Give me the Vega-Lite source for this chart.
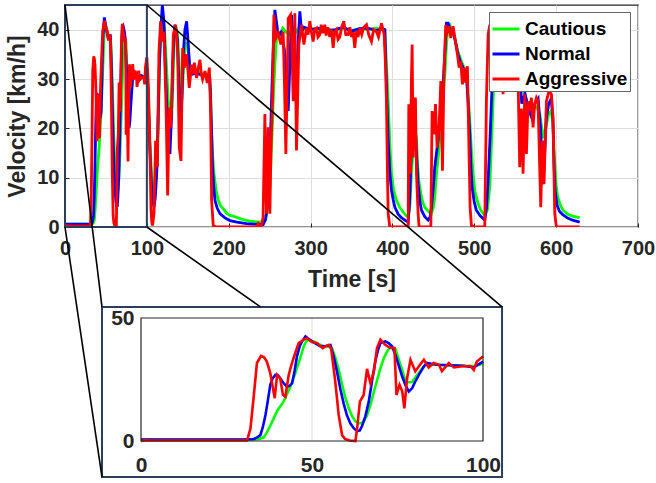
{
"$schema":"https://vega.github.io/schema/vega-lite/v6.json",
"autosize":{"type":"none"},
"padding":{"left":65,"top":5,"right":18,"bottom":256},
"width":573,"height":222,
"config":{
 "font":"Liberation Sans",
 "view":{"stroke":"#262626","strokeWidth":1.3},
 "axis":{"labelFont":"Liberation Sans","labelFontWeight":"bold","labelColor":"#262626","labelFontSize":20,"titleFont":"Liberation Sans","titleFontSize":23,"titleFontWeight":"bold","titleColor":"#262626","domain":false,"gridColor":"#dedede","gridWidth":1,"tickColor":"#262626","labelFlush":false,"labelOverlap":false},
 "legend":{"orient":"none","legendX":424,"legendY":7,"labelFont":"Liberation Sans","labelFontSize":19,"labelFontWeight":"bold","labelColor":"#000000","symbolType":"stroke","symbolSize":729,"symbolStrokeWidth":3,"strokeColor":"#666666","fillColor":"#ffffff","padding":2,"rowPadding":-5,"labelOffset":4,"cornerRadius":0}
},
"datasets":{
"vel":[
{"s":"Cautious","t":0,"v":0.6},{"s":"Cautious","t":10,"v":0.6},{"s":"Cautious","t":20,"v":0.6},{"s":"Cautious","t":30,"v":0.6},{"s":"Cautious","t":33,"v":0.6},{"s":"Cautious","t":34.5,"v":0.8},{"s":"Cautious","t":35.9,"v":1.5},{"s":"Cautious","t":36.8,"v":3.5},{"s":"Cautious","t":37.8,"v":6.2},{"s":"Cautious","t":38.8,"v":9.2},{"s":"Cautious","t":39.8,"v":12.2},{"s":"Cautious","t":40.7,"v":14},{"s":"Cautious","t":41.7,"v":16},{"s":"Cautious","t":42.6,"v":18.8},{"s":"Cautious","t":43.6,"v":21.9},{"s":"Cautious","t":44.6,"v":25.5},{"s":"Cautious","t":45.6,"v":29.6},{"s":"Cautious","t":46.6,"v":34},{"s":"Cautious","t":47.6,"v":38.5},{"s":"Cautious","t":48.3,"v":40.5},{"s":"Cautious","t":49,"v":41.2},{"s":"Cautious","t":50.5,"v":40.5},{"s":"Cautious","t":51.5,"v":39.8},{"s":"Cautious","t":52.4,"v":39.1},{"s":"Cautious","t":53.4,"v":38.5},{"s":"Cautious","t":54.4,"v":38.5},{"s":"Cautious","t":55.8,"v":37.8},{"s":"Cautious","t":56.8,"v":34},{"s":"Cautious","t":57.8,"v":29},{"s":"Cautious","t":58.8,"v":23},{"s":"Cautious","t":59.7,"v":17.8},{"s":"Cautious","t":60.7,"v":13.5},{"s":"Cautious","t":61.7,"v":10.2},{"s":"Cautious","t":62.6,"v":8.2},{"s":"Cautious","t":63.6,"v":7.2},{"s":"Cautious","t":64.4,"v":7.2},{"s":"Cautious","t":65.1,"v":7.9},{"s":"Cautious","t":66.1,"v":10.5},{"s":"Cautious","t":67.1,"v":14.7},{"s":"Cautious","t":68,"v":19.5},{"s":"Cautious","t":69,"v":24.6},{"s":"Cautious","t":70,"v":29.5},{"s":"Cautious","t":71,"v":33.7},{"s":"Cautious","t":72,"v":36.5},{"s":"Cautious","t":72.9,"v":38.2},{"s":"Cautious","t":74.4,"v":37.5},{"s":"Cautious","t":75.4,"v":33},{"s":"Cautious","t":76.4,"v":28.7},{"s":"Cautious","t":77.1,"v":25.5},{"s":"Cautious","t":77.8,"v":23.9},{"s":"Cautious","t":79.3,"v":24},{"s":"Cautious","t":80.2,"v":25.8},{"s":"Cautious","t":81.2,"v":27.6},{"s":"Cautious","t":82.2,"v":29.5},{"s":"Cautious","t":83.2,"v":31},{"s":"Cautious","t":86.5,"v":31},{"s":"Cautious","t":89,"v":30.8},{"s":"Cautious","t":92.4,"v":30.7},{"s":"Cautious","t":95,"v":30.5},{"s":"Cautious","t":97.3,"v":30.5},{"s":"Cautious","t":99,"v":31},{"s":"Cautious","t":100,"v":31.7},
{"s":"Cautious","t":101.8,"v":27},{"s":"Cautious","t":103.8,"v":17},{"s":"Cautious","t":105.8,"v":10.8},{"s":"Cautious","t":107.5,"v":7.5},{"s":"Cautious","t":109,"v":6.7},{"s":"Cautious","t":110.8,"v":9},{"s":"Cautious","t":112.8,"v":13.4},{"s":"Cautious","t":114.5,"v":25},{"s":"Cautious","t":116,"v":35.6},{"s":"Cautious","t":117.5,"v":40},{"s":"Cautious","t":119.3,"v":41.7},{"s":"Cautious","t":121.5,"v":40.3},{"s":"Cautious","t":123.5,"v":34},{"s":"Cautious","t":126.2,"v":25.5},{"s":"Cautious","t":128.2,"v":22.5},{"s":"Cautious","t":130.3,"v":22.2},{"s":"Cautious","t":132,"v":30},{"s":"Cautious","t":133.5,"v":37.6},{"s":"Cautious","t":135.5,"v":40.5},{"s":"Cautious","t":137.5,"v":39},{"s":"Cautious","t":140,"v":31},{"s":"Cautious","t":142.5,"v":25.5},{"s":"Cautious","t":144.5,"v":31},{"s":"Cautious","t":146.5,"v":36.3},{"s":"Cautious","t":148.5,"v":37.5},{"s":"Cautious","t":150.6,"v":35.6},{"s":"Cautious","t":153,"v":32},{"s":"Cautious","t":156,"v":31.5},{"s":"Cautious","t":160,"v":31.5},{"s":"Cautious","t":164,"v":31.5},{"s":"Cautious","t":168,"v":31},{"s":"Cautious","t":172,"v":31},{"s":"Cautious","t":176,"v":31},{"s":"Cautious","t":178,"v":27},{"s":"Cautious","t":179.1,"v":18.8},{"s":"Cautious","t":180.5,"v":14},{"s":"Cautious","t":182,"v":10.8},{"s":"Cautious","t":184.5,"v":7.5},{"s":"Cautious","t":187.2,"v":5.4},{"s":"Cautious","t":190,"v":4.3},{"s":"Cautious","t":193.3,"v":3.7},{"s":"Cautious","t":197.4,"v":2.8},{"s":"Cautious","t":201,"v":2.4},{"s":"Cautious","t":205.5,"v":2.2},{"s":"Cautious","t":213.7,"v":1.7},{"s":"Cautious","t":220,"v":1.4},{"s":"Cautious","t":226,"v":1.2},{"s":"Cautious","t":232,"v":1.1},{"s":"Cautious","t":238,"v":1},{"s":"Cautious","t":244.2,"v":1.3},{"s":"Cautious","t":247,"v":3},{"s":"Cautious","t":250.3,"v":8},{"s":"Cautious","t":252.3,"v":16},{"s":"Cautious","t":254.3,"v":25.5},{"s":"Cautious","t":256.4,"v":33},{"s":"Cautious","t":258.4,"v":38.3},{"s":"Cautious","t":262.5,"v":39},{"s":"Cautious","t":266,"v":40.3},{"s":"Cautious","t":270,"v":39.5},{"s":"Cautious","t":274,"v":39},{"s":"Cautious","t":278,"v":40.5},{"s":"Cautious","t":282,"v":39.5},{"s":"Cautious","t":286,"v":40.5},{"s":"Cautious","t":290,"v":40},{"s":"Cautious","t":300,"v":40.3},{"s":"Cautious","t":310,"v":39.8},{"s":"Cautious","t":320,"v":40.2},{"s":"Cautious","t":330,"v":39.7},{"s":"Cautious","t":340,"v":40.3},{"s":"Cautious","t":350,"v":39.8},{"s":"Cautious","t":360,"v":40.2},{"s":"Cautious","t":370,"v":40},{"s":"Cautious","t":380,"v":40.3},{"s":"Cautious","t":390.7,"v":40},{"s":"Cautious","t":392.7,"v":33},{"s":"Cautious","t":394.8,"v":25.5},{"s":"Cautious","t":396.8,"v":17},{"s":"Cautious","t":398.8,"v":10.8},{"s":"Cautious","t":401.5,"v":7.5},{"s":"Cautious","t":404.9,"v":5.4},{"s":"Cautious","t":409,"v":4},{"s":"Cautious","t":413.1,"v":3},{"s":"Cautious","t":417,"v":2.3},{"s":"Cautious","t":419.2,"v":2},{"s":"Cautious","t":421.2,"v":4},{"s":"Cautious","t":423.2,"v":10.8},{"s":"Cautious","t":425.3,"v":16},{"s":"Cautious","t":427.3,"v":20},{"s":"Cautious","t":429.4,"v":18},{"s":"Cautious","t":430.6,"v":13},{"s":"Cautious","t":432.2,"v":9.4},{"s":"Cautious","t":435,"v":6.5},{"s":"Cautious","t":437,"v":5},{"s":"Cautious","t":439.5,"v":4},{"s":"Cautious","t":443.6,"v":3.2},{"s":"Cautious","t":447.7,"v":2.7},{"s":"Cautious","t":450,"v":4},{"s":"Cautious","t":451.7,"v":6},{"s":"Cautious","t":453.8,"v":10.8},{"s":"Cautious","t":455.8,"v":14},{"s":"Cautious","t":457.8,"v":17.5},{"s":"Cautious","t":460,"v":23},{"s":"Cautious","t":462,"v":27},{"s":"Cautious","t":464,"v":30.9},{"s":"Cautious","t":466,"v":37},{"s":"Cautious","t":468,"v":40.7},{"s":"Cautious","t":470,"v":41},{"s":"Cautious","t":473,"v":39.8},{"s":"Cautious","t":476.2,"v":38.3},{"s":"Cautious","t":480,"v":35.5},{"s":"Cautious","t":484.3,"v":33.6},{"s":"Cautious","t":487,"v":32.5},{"s":"Cautious","t":490.4,"v":30.9},{"s":"Cautious","t":492.5,"v":26.5},{"s":"Cautious","t":494.5,"v":21.5},{"s":"Cautious","t":496.5,"v":15.5},{"s":"Cautious","t":498.5,"v":10.8},{"s":"Cautious","t":501,"v":7},{"s":"Cautious","t":504.7,"v":4.7},{"s":"Cautious","t":508,"v":3.4},{"s":"Cautious","t":512.8,"v":2.3},{"s":"Cautious","t":516,"v":3.5},{"s":"Cautious","t":518.9,"v":8.1},{"s":"Cautious","t":521,"v":17},{"s":"Cautious","t":523,"v":25.5},{"s":"Cautious","t":525,"v":35.6},{"s":"Cautious","t":527,"v":39.5},{"s":"Cautious","t":530,"v":40.5},{"s":"Cautious","t":540,"v":40},{"s":"Cautious","t":550,"v":40},{"s":"Cautious","t":553,"v":39},{"s":"Cautious","t":556,"v":33},{"s":"Cautious","t":560,"v":28},{"s":"Cautious","t":565,"v":25},{"s":"Cautious","t":570,"v":23.5},{"s":"Cautious","t":575,"v":24.5},{"s":"Cautious","t":580,"v":23},{"s":"Cautious","t":584,"v":18},{"s":"Cautious","t":587,"v":20},{"s":"Cautious","t":591,"v":23},{"s":"Cautious","t":594,"v":23.5},{"s":"Cautious","t":596,"v":21},{"s":"Cautious","t":598.3,"v":13},{"s":"Cautious","t":600,"v":8.5},{"s":"Cautious","t":602,"v":6},{"s":"Cautious","t":605,"v":4.5},{"s":"Cautious","t":608.4,"v":3.4},{"s":"Cautious","t":614,"v":2.6},{"s":"Cautious","t":620,"v":2.2},{"s":"Cautious","t":628.8,"v":1.9},
{"s":"Normal","t":0,"v":0.6},{"s":"Normal","t":10,"v":0.6},{"s":"Normal","t":20,"v":0.6},{"s":"Normal","t":31,"v":0.6},{"s":"Normal","t":33,"v":0.8},{"s":"Normal","t":34,"v":1.5},{"s":"Normal","t":34.9,"v":2.4},{"s":"Normal","t":35.6,"v":5.5},{"s":"Normal","t":36.4,"v":10.6},{"s":"Normal","t":37.1,"v":16.5},{"s":"Normal","t":37.8,"v":22.8},{"s":"Normal","t":38.5,"v":25.5},{"s":"Normal","t":39.3,"v":26.9},{"s":"Normal","t":40,"v":26.8},{"s":"Normal","t":40.7,"v":25.5},{"s":"Normal","t":41.7,"v":23.5},{"s":"Normal","t":42.7,"v":22.1},{"s":"Normal","t":43.5,"v":22.5},{"s":"Normal","t":44.2,"v":23.5},{"s":"Normal","t":44.9,"v":28.5},{"s":"Normal","t":45.6,"v":34.4},{"s":"Normal","t":46.4,"v":38.5},{"s":"Normal","t":47.1,"v":40.5},{"s":"Normal","t":48.1,"v":42.5},{"s":"Normal","t":49,"v":41.5},{"s":"Normal","t":50,"v":40.5},{"s":"Normal","t":51.2,"v":39.5},{"s":"Normal","t":52.4,"v":38.5},{"s":"Normal","t":53.9,"v":38.5},{"s":"Normal","t":55.4,"v":39},{"s":"Normal","t":56.4,"v":34},{"s":"Normal","t":57.3,"v":28.3},{"s":"Normal","t":58.3,"v":21},{"s":"Normal","t":59.3,"v":15},{"s":"Normal","t":60.2,"v":10.5},{"s":"Normal","t":61.2,"v":7.2},{"s":"Normal","t":62.2,"v":5.2},{"s":"Normal","t":63.2,"v":4},{"s":"Normal","t":64,"v":4.3},{"s":"Normal","t":64.6,"v":6},{"s":"Normal","t":65.6,"v":10},{"s":"Normal","t":66.6,"v":16},{"s":"Normal","t":67.5,"v":24},{"s":"Normal","t":68.5,"v":32.3},{"s":"Normal","t":69.3,"v":37},{"s":"Normal","t":70,"v":39.8},{"s":"Normal","t":71.4,"v":40.5},{"s":"Normal","t":72.4,"v":39.8},{"s":"Normal","t":73.4,"v":38.5},{"s":"Normal","t":74.4,"v":35},{"s":"Normal","t":75.3,"v":31},{"s":"Normal","t":76.3,"v":26.5},{"s":"Normal","t":77.3,"v":22.8},{"s":"Normal","t":78.3,"v":20.1},{"s":"Normal","t":79.3,"v":21.5},{"s":"Normal","t":80.2,"v":24.2},{"s":"Normal","t":81.5,"v":27.5},{"s":"Normal","t":82.7,"v":30.3},{"s":"Normal","t":83.6,"v":31.7},{"s":"Normal","t":86.5,"v":31},{"s":"Normal","t":90.4,"v":30.8},{"s":"Normal","t":94.3,"v":30.6},{"s":"Normal","t":97.3,"v":29.9},{"s":"Normal","t":100,"v":32.3},
{"s":"Normal","t":101.8,"v":25.5},{"s":"Normal","t":103.8,"v":15},{"s":"Normal","t":105.8,"v":8.1},{"s":"Normal","t":107.3,"v":5.5},{"s":"Normal","t":108.7,"v":4},{"s":"Normal","t":110.3,"v":6},{"s":"Normal","t":112,"v":10.8},{"s":"Normal","t":113.6,"v":21},{"s":"Normal","t":115.2,"v":32.3},{"s":"Normal","t":117,"v":40},{"s":"Normal","t":118.9,"v":45},{"s":"Normal","t":120.9,"v":41.7},{"s":"Normal","t":122.5,"v":33},{"s":"Normal","t":124.2,"v":25.5},{"s":"Normal","t":126.2,"v":18},{"s":"Normal","t":128.2,"v":14.8},{"s":"Normal","t":130,"v":22},{"s":"Normal","t":131.5,"v":32.3},{"s":"Normal","t":133,"v":38.5},{"s":"Normal","t":134.3,"v":41},{"s":"Normal","t":137.2,"v":38.3},{"s":"Normal","t":139,"v":30},{"s":"Normal","t":141.3,"v":20.2},{"s":"Normal","t":143,"v":27},{"s":"Normal","t":144.5,"v":35},{"s":"Normal","t":146.5,"v":40},{"s":"Normal","t":148.6,"v":41.7},{"s":"Normal","t":150.6,"v":37},{"s":"Normal","t":152.6,"v":31.6},{"s":"Normal","t":156,"v":31},{"s":"Normal","t":160,"v":31.2},{"s":"Normal","t":164,"v":31},{"s":"Normal","t":168,"v":30.7},{"s":"Normal","t":172,"v":30.8},{"s":"Normal","t":177,"v":30.2},{"s":"Normal","t":178.8,"v":21},{"s":"Normal","t":180.3,"v":12.1},{"s":"Normal","t":181.8,"v":8},{"s":"Normal","t":183.2,"v":5.4},{"s":"Normal","t":186,"v":3.8},{"s":"Normal","t":189.3,"v":2.7},{"s":"Normal","t":195,"v":1.9},{"s":"Normal","t":201.5,"v":1.3},{"s":"Normal","t":210,"v":1},{"s":"Normal","t":221.8,"v":0.7},{"s":"Normal","t":232,"v":0.6},{"s":"Normal","t":242.1,"v":0.5},{"s":"Normal","t":245,"v":1.5},{"s":"Normal","t":248.2,"v":5.4},{"s":"Normal","t":250.3,"v":14},{"s":"Normal","t":252.3,"v":25.5},{"s":"Normal","t":254.3,"v":36},{"s":"Normal","t":256.4,"v":44},{"s":"Normal","t":258.4,"v":41.5},{"s":"Normal","t":260.4,"v":39},{"s":"Normal","t":264,"v":39.5},{"s":"Normal","t":268,"v":36},{"s":"Normal","t":270,"v":30},{"s":"Normal","t":272.7,"v":23.5},{"s":"Normal","t":274.7,"v":33},{"s":"Normal","t":276.7,"v":43},{"s":"Normal","t":278.8,"v":37},{"s":"Normal","t":280.8,"v":28.2},{"s":"Normal","t":282.8,"v":30},{"s":"Normal","t":284.9,"v":37.6},{"s":"Normal","t":286.9,"v":43.7},{"s":"Normal","t":289,"v":39.6},{"s":"Normal","t":292,"v":40.5},{"s":"Normal","t":300,"v":40},{"s":"Normal","t":310,"v":40.3},{"s":"Normal","t":320,"v":39.8},{"s":"Normal","t":330,"v":40},{"s":"Normal","t":340,"v":40.5},{"s":"Normal","t":350,"v":39.7},{"s":"Normal","t":360,"v":40.2},{"s":"Normal","t":370,"v":40.3},{"s":"Normal","t":380,"v":39.8},{"s":"Normal","t":388,"v":40.2},{"s":"Normal","t":390.7,"v":40},{"s":"Normal","t":392.7,"v":29},{"s":"Normal","t":394.8,"v":18},{"s":"Normal","t":396.8,"v":11},{"s":"Normal","t":398.8,"v":7.5},{"s":"Normal","t":401,"v":5.5},{"s":"Normal","t":403,"v":4},{"s":"Normal","t":407,"v":2.6},{"s":"Normal","t":411,"v":1.9},{"s":"Normal","t":415.1,"v":1.4},{"s":"Normal","t":419.2,"v":1},{"s":"Normal","t":421,"v":5},{"s":"Normal","t":422.4,"v":12.1},{"s":"Normal","t":424,"v":19},{"s":"Normal","t":425.3,"v":22.2},{"s":"Normal","t":427.3,"v":22.2},{"s":"Normal","t":429.4,"v":15},{"s":"Normal","t":431.4,"v":8.7},{"s":"Normal","t":433.5,"v":5.2},{"s":"Normal","t":435.5,"v":3.4},{"s":"Normal","t":439.5,"v":2.1},{"s":"Normal","t":443.6,"v":1.4},{"s":"Normal","t":446,"v":2},{"s":"Normal","t":447.7,"v":4},{"s":"Normal","t":449.7,"v":7.5},{"s":"Normal","t":451.7,"v":12.1},{"s":"Normal","t":453.8,"v":15},{"s":"Normal","t":455.8,"v":17.5},{"s":"Normal","t":458,"v":22},{"s":"Normal","t":460,"v":25.5},{"s":"Normal","t":461.9,"v":28.9},{"s":"Normal","t":464,"v":35},{"s":"Normal","t":466,"v":41.3},{"s":"Normal","t":468,"v":41.3},{"s":"Normal","t":470.1,"v":40.3},{"s":"Normal","t":474.1,"v":39.6},{"s":"Normal","t":477,"v":37.5},{"s":"Normal","t":480.2,"v":35},{"s":"Normal","t":483,"v":33.5},{"s":"Normal","t":486.3,"v":32.3},{"s":"Normal","t":490.4,"v":30.9},{"s":"Normal","t":492.5,"v":25},{"s":"Normal","t":494.5,"v":18.8},{"s":"Normal","t":496,"v":12},{"s":"Normal","t":497.3,"v":8.1},{"s":"Normal","t":500,"v":5},{"s":"Normal","t":502.6,"v":3.4},{"s":"Normal","t":507,"v":2.3},{"s":"Normal","t":512.8,"v":1.4},{"s":"Normal","t":515,"v":4},{"s":"Normal","t":516.9,"v":9.4},{"s":"Normal","t":519,"v":17},{"s":"Normal","t":521,"v":25.5},{"s":"Normal","t":523,"v":33},{"s":"Normal","t":525,"v":39},{"s":"Normal","t":527,"v":40.5},{"s":"Normal","t":530,"v":40},{"s":"Normal","t":540,"v":40.3},{"s":"Normal","t":550,"v":39.8},{"s":"Normal","t":553,"v":39},{"s":"Normal","t":556,"v":30},{"s":"Normal","t":558,"v":25},{"s":"Normal","t":562,"v":27},{"s":"Normal","t":566,"v":24},{"s":"Normal","t":570,"v":22.2},{"s":"Normal","t":574,"v":25},{"s":"Normal","t":578,"v":26},{"s":"Normal","t":581,"v":20},{"s":"Normal","t":583,"v":12},{"s":"Normal","t":584,"v":8.7},{"s":"Normal","t":586,"v":15},{"s":"Normal","t":588,"v":22},{"s":"Normal","t":591,"v":25},{"s":"Normal","t":594,"v":26},{"s":"Normal","t":596,"v":22},{"s":"Normal","t":597.5,"v":12},{"s":"Normal","t":599,"v":7},{"s":"Normal","t":601,"v":4.5},{"s":"Normal","t":604,"v":3.2},{"s":"Normal","t":608,"v":2.5},{"s":"Normal","t":614,"v":1.8},{"s":"Normal","t":620,"v":1.4},{"s":"Normal","t":628.8,"v":1},
{"s":"Aggressive","t":0,"v":0},{"s":"Aggressive","t":1.3,"v":0.3},{"s":"Aggressive","t":3,"v":0.2},{"s":"Aggressive","t":10,"v":0.2},{"s":"Aggressive","t":20,"v":0.2},{"s":"Aggressive","t":31,"v":0.2},{"s":"Aggressive","t":32,"v":5},{"s":"Aggressive","t":33,"v":18.7},{"s":"Aggressive","t":33.9,"v":31.7},{"s":"Aggressive","t":35.1,"v":34.6},{"s":"Aggressive","t":36,"v":34},{"s":"Aggressive","t":36.8,"v":32.3},{"s":"Aggressive","t":37.8,"v":27.6},{"s":"Aggressive","t":38.5,"v":22},{"s":"Aggressive","t":39.1,"v":17.4},{"s":"Aggressive","t":39.8,"v":26.9},{"s":"Aggressive","t":40.7,"v":25.5},{"s":"Aggressive","t":41.5,"v":18.8},{"s":"Aggressive","t":42.2,"v":18},{"s":"Aggressive","t":43.2,"v":26.9},{"s":"Aggressive","t":43.9,"v":30.5},{"s":"Aggressive","t":44.6,"v":33.7},{"s":"Aggressive","t":45.4,"v":37},{"s":"Aggressive","t":46.1,"v":39.8},{"s":"Aggressive","t":47.6,"v":41.2},{"s":"Aggressive","t":48.5,"v":41.8},{"s":"Aggressive","t":50,"v":40.2},{"s":"Aggressive","t":51.5,"v":39.8},{"s":"Aggressive","t":53.1,"v":37.8},{"s":"Aggressive","t":53.9,"v":38.5},{"s":"Aggressive","t":54.9,"v":39.1},{"s":"Aggressive","t":55.6,"v":37.5},{"s":"Aggressive","t":56.2,"v":31},{"s":"Aggressive","t":56.8,"v":24.2},{"s":"Aggressive","t":57.8,"v":10.6},{"s":"Aggressive","t":58.8,"v":2.4},{"s":"Aggressive","t":59.7,"v":0.8},{"s":"Aggressive","t":61,"v":0.2},{"s":"Aggressive","t":62.7,"v":0},{"s":"Aggressive","t":63.2,"v":5.2},{"s":"Aggressive","t":64,"v":16},{"s":"Aggressive","t":65.1,"v":18.7},{"s":"Aggressive","t":66.1,"v":29.3},{"s":"Aggressive","t":67.1,"v":23.4},{"s":"Aggressive","t":68.1,"v":28.3},{"s":"Aggressive","t":69,"v":37.8},{"s":"Aggressive","t":70,"v":41.2},{"s":"Aggressive","t":71.4,"v":39.1},{"s":"Aggressive","t":72.9,"v":37.8},{"s":"Aggressive","t":74.1,"v":37.8},{"s":"Aggressive","t":74.7,"v":18.7},{"s":"Aggressive","t":75.6,"v":22.8},{"s":"Aggressive","t":76.4,"v":20.1},{"s":"Aggressive","t":77,"v":13.3},{"s":"Aggressive","t":77.8,"v":25.5},{"s":"Aggressive","t":78.8,"v":33},{"s":"Aggressive","t":80.2,"v":28.3},{"s":"Aggressive","t":81.2,"v":30.3},{"s":"Aggressive","t":82.7,"v":33},{"s":"Aggressive","t":84.1,"v":29.9},{"s":"Aggressive","t":85.6,"v":31.7},{"s":"Aggressive","t":87.1,"v":31},{"s":"Aggressive","t":88,"v":28.4},{"s":"Aggressive","t":90,"v":31.7},{"s":"Aggressive","t":91.5,"v":29.9},{"s":"Aggressive","t":93.4,"v":30.3},{"s":"Aggressive","t":96.3,"v":30.5},{"s":"Aggressive","t":97.3,"v":28.9},{"s":"Aggressive","t":98.2,"v":32.3},{"s":"Aggressive","t":100,"v":34.4},
{"s":"Aggressive","t":101.8,"v":28.9},{"s":"Aggressive","t":103.8,"v":15.5},{"s":"Aggressive","t":105,"v":4},{"s":"Aggressive","t":106,"v":1},{"s":"Aggressive","t":107,"v":0.3},{"s":"Aggressive","t":108.7,"v":2.7},{"s":"Aggressive","t":110.7,"v":17.5},{"s":"Aggressive","t":112.8,"v":12.1},{"s":"Aggressive","t":114.8,"v":35.6},{"s":"Aggressive","t":116.8,"v":41.7},{"s":"Aggressive","t":118.9,"v":37.6},{"s":"Aggressive","t":120.9,"v":39.6},{"s":"Aggressive","t":123.3,"v":25.5},{"s":"Aggressive","t":125.4,"v":6.4},{"s":"Aggressive","t":127.4,"v":24.2},{"s":"Aggressive","t":129.4,"v":20.2},{"s":"Aggressive","t":132.3,"v":39},{"s":"Aggressive","t":135.2,"v":41},{"s":"Aggressive","t":137.6,"v":35.6},{"s":"Aggressive","t":139.6,"v":16.1},{"s":"Aggressive","t":141.7,"v":13.4},{"s":"Aggressive","t":143.7,"v":36.3},{"s":"Aggressive","t":145.7,"v":32.3},{"s":"Aggressive","t":148.6,"v":35},{"s":"Aggressive","t":151.8,"v":28.2},{"s":"Aggressive","t":154.7,"v":32.9},{"s":"Aggressive","t":156.5,"v":31},{"s":"Aggressive","t":158,"v":33.3},{"s":"Aggressive","t":160.8,"v":30.2},{"s":"Aggressive","t":162.5,"v":32},{"s":"Aggressive","t":164.9,"v":33.9},{"s":"Aggressive","t":166.5,"v":31},{"s":"Aggressive","t":168.1,"v":29.9},{"s":"Aggressive","t":171,"v":31.6},{"s":"Aggressive","t":173.8,"v":29.2},{"s":"Aggressive","t":176.3,"v":32.3},{"s":"Aggressive","t":177.9,"v":23.5},{"s":"Aggressive","t":179.1,"v":5.4},{"s":"Aggressive","t":181.1,"v":0.3},{"s":"Aggressive","t":185,"v":0},{"s":"Aggressive","t":234,"v":0},{"s":"Aggressive","t":236,"v":0.7},{"s":"Aggressive","t":238,"v":0.1},{"s":"Aggressive","t":240,"v":0.2},{"s":"Aggressive","t":242,"v":2},{"s":"Aggressive","t":244.2,"v":22.9},{"s":"Aggressive","t":245.2,"v":10},{"s":"Aggressive","t":246.2,"v":2.7},{"s":"Aggressive","t":247,"v":8},{"s":"Aggressive","t":248.2,"v":20.2},{"s":"Aggressive","t":249.3,"v":10},{"s":"Aggressive","t":250.3,"v":2.7},{"s":"Aggressive","t":251.5,"v":15},{"s":"Aggressive","t":253.5,"v":25.5},{"s":"Aggressive","t":255.2,"v":43},{"s":"Aggressive","t":257.6,"v":38.3},{"s":"Aggressive","t":260.4,"v":39.3},{"s":"Aggressive","t":263.7,"v":37},{"s":"Aggressive","t":266.5,"v":39.6},{"s":"Aggressive","t":268,"v":30},{"s":"Aggressive","t":269.8,"v":14.8},{"s":"Aggressive","t":271.5,"v":30},{"s":"Aggressive","t":272.7,"v":42.3},{"s":"Aggressive","t":275.5,"v":43},{"s":"Aggressive","t":277,"v":38},{"s":"Aggressive","t":278.8,"v":25.5},{"s":"Aggressive","t":280.8,"v":43.3},{"s":"Aggressive","t":282.8,"v":15.5},{"s":"Aggressive","t":285.7,"v":37},{"s":"Aggressive","t":288.9,"v":41},{"s":"Aggressive","t":291.8,"v":37},{"s":"Aggressive","t":295,"v":40.3},{"s":"Aggressive","t":297,"v":39},{"s":"Aggressive","t":299.1,"v":41.7},{"s":"Aggressive","t":301,"v":39.5},{"s":"Aggressive","t":303.2,"v":37.6},{"s":"Aggressive","t":305,"v":40},{"s":"Aggressive","t":307.3,"v":40.3},{"s":"Aggressive","t":309,"v":38.5},{"s":"Aggressive","t":311.3,"v":39},{"s":"Aggressive","t":313,"v":41},{"s":"Aggressive","t":315,"v":39.3},{"s":"Aggressive","t":317.4,"v":41},{"s":"Aggressive","t":319,"v":38.8},{"s":"Aggressive","t":321,"v":40.5},{"s":"Aggressive","t":323.5,"v":38.5},{"s":"Aggressive","t":325.5,"v":40},{"s":"Aggressive","t":327.6,"v":36.3},{"s":"Aggressive","t":329.5,"v":39.5},{"s":"Aggressive","t":331.7,"v":40},{"s":"Aggressive","t":333.5,"v":38},{"s":"Aggressive","t":335.7,"v":38.5},{"s":"Aggressive","t":338,"v":40.5},{"s":"Aggressive","t":340.6,"v":41.7},{"s":"Aggressive","t":343,"v":39},{"s":"Aggressive","t":345.9,"v":39},{"s":"Aggressive","t":348,"v":40.5},{"s":"Aggressive","t":350,"v":38.5},{"s":"Aggressive","t":352,"v":39.5},{"s":"Aggressive","t":354,"v":36.3},{"s":"Aggressive","t":356,"v":39.8},{"s":"Aggressive","t":358,"v":38.5},{"s":"Aggressive","t":360.2,"v":40.3},{"s":"Aggressive","t":362.5,"v":39},{"s":"Aggressive","t":365,"v":40.5},{"s":"Aggressive","t":368.3,"v":41},{"s":"Aggressive","t":371,"v":39},{"s":"Aggressive","t":374.4,"v":37.6},{"s":"Aggressive","t":377,"v":40},{"s":"Aggressive","t":380.5,"v":39.6},{"s":"Aggressive","t":383,"v":38.5},{"s":"Aggressive","t":386.6,"v":41.3},{"s":"Aggressive","t":388.5,"v":40},{"s":"Aggressive","t":389.9,"v":39},{"s":"Aggressive","t":391.5,"v":33},{"s":"Aggressive","t":392.7,"v":25.5},{"s":"Aggressive","t":394,"v":10},{"s":"Aggressive","t":394.8,"v":2.7},{"s":"Aggressive","t":396.8,"v":0},{"s":"Aggressive","t":419.2,"v":0},{"s":"Aggressive","t":420,"v":24.9},{"s":"Aggressive","t":421,"v":22},{"s":"Aggressive","t":422,"v":10.8},{"s":"Aggressive","t":423.2,"v":30},{"s":"Aggressive","t":424.1,"v":37},{"s":"Aggressive","t":425.3,"v":14.1},{"s":"Aggressive","t":426.5,"v":25.5},{"s":"Aggressive","t":428.1,"v":26.2},{"s":"Aggressive","t":429.4,"v":10.8},{"s":"Aggressive","t":431.4,"v":2.7},{"s":"Aggressive","t":432.6,"v":0},{"s":"Aggressive","t":446.9,"v":0},{"s":"Aggressive","t":448.5,"v":23.5},{"s":"Aggressive","t":450,"v":20},{"s":"Aggressive","t":451,"v":18.8},{"s":"Aggressive","t":452.6,"v":24.9},{"s":"Aggressive","t":454.6,"v":16.1},{"s":"Aggressive","t":457,"v":20.2},{"s":"Aggressive","t":459.1,"v":29.6},{"s":"Aggressive","t":461.1,"v":11.4},{"s":"Aggressive","t":463.1,"v":32.3},{"s":"Aggressive","t":465.2,"v":41},{"s":"Aggressive","t":467.2,"v":39.6},{"s":"Aggressive","t":469.2,"v":40.7},{"s":"Aggressive","t":471.3,"v":38.3},{"s":"Aggressive","t":474.1,"v":40.7},{"s":"Aggressive","t":477,"v":37.6},{"s":"Aggressive","t":479.4,"v":35},{"s":"Aggressive","t":481.5,"v":32.3},{"s":"Aggressive","t":483.5,"v":33.6},{"s":"Aggressive","t":485.5,"v":28.9},{"s":"Aggressive","t":487.6,"v":32.3},{"s":"Aggressive","t":489.6,"v":29.2},{"s":"Aggressive","t":491.6,"v":32.6},{"s":"Aggressive","t":493.3,"v":17.5},{"s":"Aggressive","t":494.9,"v":4},{"s":"Aggressive","t":496.5,"v":0.3},{"s":"Aggressive","t":500,"v":0},{"s":"Aggressive","t":512.8,"v":0},{"s":"Aggressive","t":514.8,"v":25.5},{"s":"Aggressive","t":516.9,"v":39},{"s":"Aggressive","t":519,"v":41},{"s":"Aggressive","t":522,"v":39.5},{"s":"Aggressive","t":525,"v":40.5},{"s":"Aggressive","t":528,"v":38.5},{"s":"Aggressive","t":531,"v":40},{"s":"Aggressive","t":534,"v":37},{"s":"Aggressive","t":535.2,"v":26.9},{"s":"Aggressive","t":536.5,"v":38},{"s":"Aggressive","t":539,"v":40},{"s":"Aggressive","t":542,"v":38.5},{"s":"Aggressive","t":545,"v":40.5},{"s":"Aggressive","t":548,"v":39},{"s":"Aggressive","t":551,"v":37},{"s":"Aggressive","t":553.5,"v":30},{"s":"Aggressive","t":555.5,"v":12.1},{"s":"Aggressive","t":557.6,"v":24},{"s":"Aggressive","t":559.6,"v":10.8},{"s":"Aggressive","t":561.6,"v":26.9},{"s":"Aggressive","t":563.7,"v":14.8},{"s":"Aggressive","t":565.7,"v":25.5},{"s":"Aggressive","t":567.7,"v":23.5},{"s":"Aggressive","t":569.8,"v":26.2},{"s":"Aggressive","t":571.8,"v":20.2},{"s":"Aggressive","t":573.8,"v":24.9},{"s":"Aggressive","t":575.9,"v":26.2},{"s":"Aggressive","t":577.9,"v":25.5},{"s":"Aggressive","t":579.9,"v":12.1},{"s":"Aggressive","t":581.2,"v":4},{"s":"Aggressive","t":583.2,"v":17.5},{"s":"Aggressive","t":585.2,"v":8.7},{"s":"Aggressive","t":588.1,"v":25.5},{"s":"Aggressive","t":591.3,"v":27.6},{"s":"Aggressive","t":594.2,"v":26.9},{"s":"Aggressive","t":596.2,"v":22.2},{"s":"Aggressive","t":598.3,"v":2.7},{"s":"Aggressive","t":600.3,"v":0},{"s":"Aggressive","t":628.8,"v":0}
],
"links":[{"t":0,"v":45,"t2":45.2,"v2":-16.2},{"t":0,"v":0,"t2":45.2,"v2":-50.7},{"t":100,"v":45,"t2":533.9,"v2":-16.2},{"t":100,"v":0,"t2":238.8,"v2":-16.2}]
},
"layer":[
{
 "encoding":{
  "x":{"field":"t","type":"quantitative","scale":{"domain":[0,700],"nice":false,"zero":false},"axis":{"orient":"bottom","title":"Time [s]","values":[0,100,200,300,400,500,600,700],"grid":true,"tickSize":-4,"labelPadding":15.5,"titlePadding":10}},
  "y":{"field":"v","type":"quantitative","scale":{"domain":[0,45],"nice":false,"zero":false},"axis":{"orient":"left","title":"Velocity [km/h]","values":[0,10,20,30,40],"grid":true,"tickSize":-4,"labelPadding":10,"titlePadding":7}}
 },
 "layer":[
  {"data":{"name":"vel"},"mark":{"type":"line","clip":true,"strokeWidth":2.8},
   "encoding":{"color":{"field":"s","type":"nominal","title":null,"sort":["Cautious","Normal","Aggressive"],"scale":{"domain":["Cautious","Normal","Aggressive"],"range":["#00ff00","#0000ff","#ff0000"]}}}},
  {"data":{"values":[{"t":0,"t2":100,"v":0,"v2":45},{"t":45.2,"t2":533.9,"v":-16.2,"v2":-50.7}]},"mark":{"type":"rect","fill":"transparent","stroke":"#2b3f5c","strokeWidth":2},
   "encoding":{"x2":{"field":"t2"},"y2":{"field":"v2"}}},
  {"data":{"name":"links"},"mark":{"type":"rule","color":"#000000","strokeWidth":1.6},
   "encoding":{"x2":{"field":"t2"},"y2":{"field":"v2"}}}
 ]
},
{
 "encoding":{
  "x":{"field":"t","type":"quantitative","scale":{"domain":[0,100],"range":[76,418],"nice":false,"zero":false},"axis":{"orient":"bottom","offset":214,"values":[0,50,100],"grid":false,"ticks":false,"labelPadding":13,"labelFontSize":21,"title":null}},
  "y":{"field":"v","type":"quantitative","scale":{"domain":[0,50],"range":[436,313],"nice":false,"zero":false},"axis":{"orient":"left","offset":-76,"values":[0,50],"grid":false,"ticks":false,"labelPadding":7,"labelFontSize":21,"title":null}}
 },
 "layer":[
  {"data":{"values":[{"t":50,"v":0,"v2":50}]},"mark":{"type":"rule","color":"#dedede","strokeWidth":1},"encoding":{"y2":{"field":"v2"}}},
  {"data":{"name":"vel"},"transform":[{"filter":"datum.t <= 100"}],"mark":{"type":"line","strokeWidth":2.6},
   "encoding":{"color":{"field":"s","type":"nominal","title":null,"sort":["Cautious","Normal","Aggressive"],"scale":{"domain":["Cautious","Normal","Aggressive"],"range":["#00ff00","#0000ff","#ff0000"]}}}},
  {"data":{"values":[{"t":0,"t2":100,"v":0,"v2":50}]},"mark":{"type":"rect","fill":"transparent","stroke":"#262626","strokeWidth":1.2},"encoding":{"x2":{"field":"t2"},"y2":{"field":"v2"}}}
 ]
}
],
"resolve":{"scale":{"x":"independent","y":"independent","color":"shared"}}
}
